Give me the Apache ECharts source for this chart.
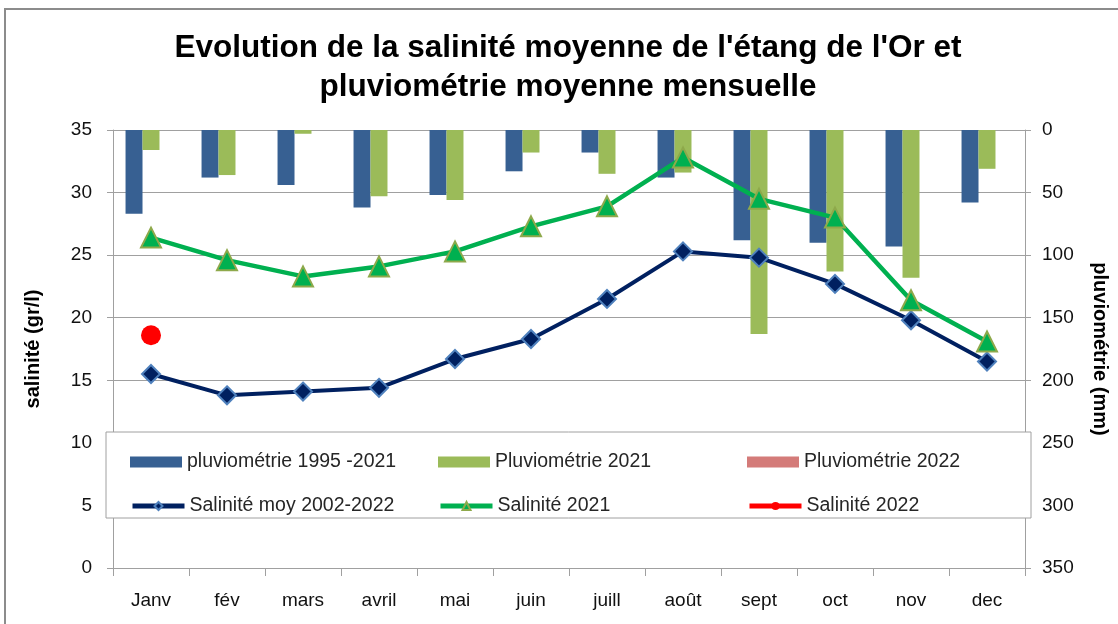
<!DOCTYPE html>
<html>
<head>
<meta charset="utf-8">
<script src="https://cdn.jsdelivr.net/npm/echarts@6/dist/echarts.min.js"></script>
<style>
  html, body { margin: 0; padding: 0; background: #fff; }
  #chart { width: 1118px; height: 624px; }
</style>
</head>
<body>
<div id="chart"></div>
<script>
var months = ['Janv', 'fév', 'mars', 'avril', 'mai', 'juin', 'juill', 'août', 'sept', 'oct', 'nov', 'dec'];

// pluviometrie (mm), right axis, inverted
var pluvioMoy = [67, 38, 44, 62, 52, 33, 18, 38, 88, 90, 93, 58];
var pluvio2021 = [16, 36, 3, 53, 56, 18, 35, 34, 163, 113, 118, 31];
var pluvio2022 = [null, null, null, null, null, null, null, null, null, null, null, null];

// salinite (gr/l), left axis
var salMoy = [15.5, 13.8, 14.1, 14.4, 16.7, 18.3, 21.5, 25.3, 24.8, 22.7, 19.8, 16.5];
var sal2021 = [26.4, 24.6, 23.3, 24.1, 25.3, 27.3, 28.9, 32.8, 29.5, 28.0, 21.4, 18.1];
var sal2022 = [18.6, null, null, null, null, null, null, null, null, null, null, null];

var font = "'Liberation Sans', Arial, sans-serif";
var gray = '#A0A0A0';

var names = ['pluviométrie 1995 -2021', 'Pluviométrie 2021', 'Pluviométrie 2022',
             'Salinité moy 2002-2022', 'Salinité 2021', 'Salinité 2022'];
var legendLeft = [125, 433, 742];
var legendTop = [447, 491];

var legends = names.map(function (n, i) {
    var isBar = i < 3;
    var lg = {
        data: [isBar ? { name: n, icon: 'rect' } : n],
        left: legendLeft[i % 3],
        top: legendTop[Math.floor(i / 3)],
        itemWidth: 52,
        itemHeight: isBar ? 11 : 10,
        itemGap: 4,
        z: 5,
        textStyle: { fontFamily: font, fontSize: 19.5, color: '#262626' }
    };
    if (!isBar) {
        lg.lineStyle = { width: 5 };
    }
    return lg;
});

var option = {
    animation: false,
    textStyle: { fontFamily: font },
    title: {
        text: "Evolution de la salinité moyenne de l'étang de l'Or et\npluviométrie moyenne mensuelle",
        left: 563,
        textAlign: 'center',
        top: 24,
        textStyle: { fontFamily: font, fontSize: 31.5, fontWeight: 'bold', color: '#000', lineHeight: 39 }
    },
    legend: legends,
    graphic: [
        {
            type: 'rect', z: -10,
            shape: { x: 5, y: 9, width: 1140, height: 640 },
            style: { fill: '#fff', stroke: '#8C8C8C', lineWidth: 2 }
        },
        {
            type: 'rect', z: 3,
            shape: { x: 106, y: 432, width: 925, height: 86 },
            style: { fill: '#fff', stroke: gray, lineWidth: 1 }
        }
    ],
    grid: { left: 113, right: 88, top: 130, bottom: 56 },
    xAxis: {
        type: 'category',
        data: months,
        axisLine: { lineStyle: { color: gray, width: 1 } },
        axisTick: { show: true, length: 8, lineStyle: { color: gray } },
        axisLabel: { fontSize: 19, color: '#111', margin: 23 }
    },
    yAxis: [
        {
            type: 'value',
            min: 0, max: 35, interval: 5,
            name: 'salinité (gr/l)',
            nameLocation: 'middle',
            nameGap: 70,
            nameTextStyle: { fontSize: 20, fontWeight: 'bold', color: '#000' },
            axisLine: { show: true, lineStyle: { color: gray } },
            axisTick: { show: true, length: 6, lineStyle: { color: gray } },
            splitLine: { lineStyle: { color: gray, width: 1 } },
            axisLabel: { fontSize: 19, color: '#111', margin: 21 }
        },
        {
            type: 'value',
            min: 0, max: 350, interval: 50,
            inverse: true,
            name: 'pluviométrie (mm)',
            nameLocation: 'middle',
            nameRotate: -90,
            nameGap: 65,
            nameTextStyle: { fontSize: 20, fontWeight: 'bold', color: '#000' },
            axisLine: { show: true, lineStyle: { color: gray } },
            axisTick: { show: true, length: 6, lineStyle: { color: gray } },
            splitLine: { show: false },
            axisLabel: { fontSize: 19, color: '#111', margin: 17 }
        }
    ],
    series: [
        {
            name: names[0], type: 'bar', yAxisIndex: 1,
            data: pluvioMoy, barGap: '0%', barCategoryGap: '33%',
            itemStyle: { color: '#376092' }
        },
        {
            name: names[1], type: 'bar', yAxisIndex: 1,
            data: pluvio2021,
            itemStyle: { color: '#9BBB59' }
        },
        {
            name: names[2], type: 'bar', yAxisIndex: 1,
            data: pluvio2022,
            itemStyle: { color: '#D47B79' }
        },
        {
            name: names[3], type: 'line', yAxisIndex: 0, z: 6,
            data: salMoy,
            symbol: 'diamond', symbolSize: 18,
            lineStyle: { color: '#002060', width: 4 },
            itemStyle: { color: '#002060', borderColor: '#4F81BD', borderWidth: 2 }
        },
        {
            name: names[4], type: 'line', yAxisIndex: 0, z: 6,
            data: sal2021,
            symbol: 'triangle', symbolSize: 20,
            lineStyle: { color: '#00B050', width: 4.5 },
            itemStyle: { color: '#00B050', borderColor: '#8EA94B', borderWidth: 2 }
        },
        {
            name: names[5], type: 'line', yAxisIndex: 0, z: 6,
            data: sal2022,
            symbol: 'circle', symbolSize: 20,
            lineStyle: { color: '#FF0000', width: 4 },
            itemStyle: { color: '#FF0000' }
        }
    ]
};

var myChart = echarts.init(document.getElementById('chart'));
myChart.setOption(option);
</script>
</body>
</html>
